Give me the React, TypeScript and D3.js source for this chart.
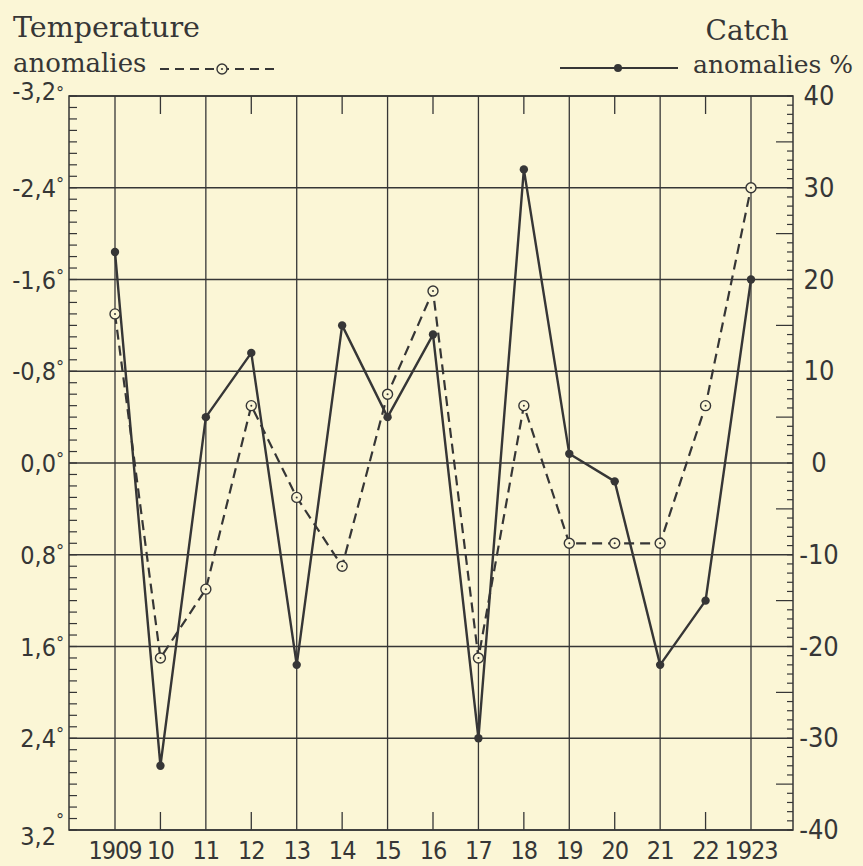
import * as d3 from 'd3';

const years = [1909, 1910, 1911, 1912, 1913, 1914, 1915, 1916, 1917, 1918, 1919, 1920, 1921, 1922, 1923];
const yearLabels = ['1909', '10', '11', '12', '13', '14', '15', '16', '17', '18', '19', '20', '21', '22', '1923'];
// temperature anomalies in degrees (axis inverted: negative up)
const tempAnomalies = [-1.3, 1.7, 1.1, -0.5, 0.3, 0.9, -0.6, -1.5, 1.7, -0.5, 0.7, 0.7, 0.7, -0.5, -2.4];
// catch anomalies in %
const catchAnomalies = [23, -33, 5, 12, -22, 15, 5, 14, -30, 32, 1, -2, -22, -15, 20];
const tempTicks = [-3.2, -2.4, -1.6, -0.8, 0, 0.8, 1.6, 2.4, 3.2];
const tempTickLabels = ['-3,2', '-2,4', '-1,6', '-0,8', '0,0', '0,8', '1,6', '2,4', '3,2'];
const catchTicks = [40, 30, 20, 10, 0, -10, -20, -30, -40];

const W = 863;
const H = 866;
const frame = { left: 69, right: 793, top: 96, bottom: 830 };
const ink = '#363636';
const paper = '#fbf6d6';
const serif = '"DejaVu Serif", serif';
const narrow = '"DejaVu Sans Condensed", "DejaVu Sans", sans-serif';

const App = () => {
  const x = d3.scaleLinear().domain([1909, 1923]).range([115, 751]);
  const yT = d3.scaleLinear().domain([-3.2, 3.2]).range([frame.top, frame.bottom]);
  const yC = d3.scaleLinear().domain([40, -40]).range([frame.top, frame.bottom]);

  const tempLine = d3.line<number>().x((_, i) => x(years[i])).y(d => yT(d));
  const catchLine = d3.line<number>().x((_, i) => x(years[i])).y(d => yC(d));

  // minor ticks: 0.1 degree on the left, 1 % on the right
  const leftMinor = d3.range(-32, 33).map(v => v / 10);
  const rightMinor = d3.range(-40, 41);

  // label offsets: top and bottom labels sit a little off the gridline
  const last = tempTicks.length - 1;
  const labelDy = (i: number) => (i === 0 ? 4 : i === last ? 15 : 9);
  const degDy = (i: number) => (i === 0 ? 3 : i === last ? -4 : 2);

  return (
    <svg width={W} height={H} style={{ position: 'absolute', left: 0, top: 0, background: paper }}>
      <rect width={W} height={H} fill={paper} />

      {/* titles */}
      <text x={13} y={37} fontFamily={serif} fontSize={28} fill={ink} textLength={187} lengthAdjust="spacingAndGlyphs">Temperature</text>
      <text x={13} y={72} fontFamily={serif} fontSize={26} fill={ink}>anomalies</text>
      <line x1={160} x2={278} y1={69} y2={69} stroke={ink} strokeWidth={2} strokeDasharray="9,6" />
      <circle cx={222} cy={69} r={5} fill={paper} stroke={ink} strokeWidth={1.4} />
      <circle cx={222} cy={69} r={1} fill={ink} />

      <text x={747} y={40} textAnchor="middle" fontFamily={serif} fontSize={28} fill={ink}>Catch</text>
      <text x={853} y={73} textAnchor="end" fontFamily={serif} fontSize={25} fill={ink}>anomalies %</text>
      <line x1={560} x2={678} y1={68} y2={68} stroke={ink} strokeWidth={2} />
      <circle cx={618} cy={68} r={4} fill={ink} />

      {/* horizontal grid */}
      {tempTicks.map(t => (
        <line key={'h' + t} x1={frame.left} x2={frame.right} y1={yT(t)} y2={yT(t)} stroke={ink} strokeWidth={1.3} />
      ))}
      {/* vertical grid: odd years full, even years short ticks */}
      {years.map((yr, i) =>
        i % 2 === 0 ? (
          <line key={'v' + yr} x1={x(yr)} x2={x(yr)} y1={frame.top} y2={frame.bottom} stroke={ink} strokeWidth={1.3} />
        ) : (
          <g key={'v' + yr}>
            <line x1={x(yr)} x2={x(yr)} y1={frame.top} y2={frame.top + 18} stroke={ink} strokeWidth={1.3} />
            <line x1={x(yr)} x2={x(yr)} y1={frame.bottom - 18} y2={frame.bottom} stroke={ink} strokeWidth={1.3} />
          </g>
        )
      )}
      <rect x={frame.left} y={frame.top} width={frame.right - frame.left} height={frame.bottom - frame.top} fill="none" stroke={ink} strokeWidth={1.5} />

      {leftMinor.map(v => (
        <line key={'lm' + v} x1={frame.left} x2={frame.left + 8} y1={yT(v)} y2={yT(v)} stroke={ink} strokeWidth={1.2} />
      ))}
      {rightMinor.map(v => (
        <line key={'rm' + v} x1={frame.right - (v % 5 === 0 && v % 10 !== 0 ? 17 : 6)} x2={frame.right} y1={yC(v)} y2={yC(v)} stroke={ink} strokeWidth={1.2} />
      ))}

      {/* left labels */}
      {tempTicks.map((t, i) => (
        <g key={'lt' + t}>
          <text x={56} y={yT(t) + labelDy(i)} textAnchor="end" fontFamily={narrow} fontSize={25} fill={ink}>{tempTickLabels[i]}</text>
          <text x={56} y={yT(t) + degDy(i)} fontFamily={narrow} fontSize={18} fill={ink}>°</text>
        </g>
      ))}
      {/* right labels */}
      {catchTicks.map(t => (
        <text key={'rt' + t} x={819} y={yC(t) + 9} textAnchor="middle" fontFamily={narrow} fontSize={27} fill={ink}>{t < 0 ? '-' + Math.abs(t) : String(t)}</text>
      ))}
      {/* year labels */}
      {years.map((yr, i) => (
        <text key={'yl' + yr} x={x(yr)} y={859} textAnchor="middle" fontFamily={narrow} fontSize={25} fill={ink} letterSpacing={-1}>{yearLabels[i]}</text>
      ))}

      {/* series */}
      <path d={tempLine(tempAnomalies) ?? ''} fill="none" stroke={ink} strokeWidth={2.2} strokeDasharray="10,6" />
      <path d={catchLine(catchAnomalies) ?? ''} fill="none" stroke={ink} strokeWidth={2.4} strokeLinejoin="round" />
      {tempAnomalies.map((v, i) => (
        <g key={'tp' + i}>
          <circle cx={x(years[i])} cy={yT(v)} r={5} fill={paper} stroke={ink} strokeWidth={1.4} />
          <circle cx={x(years[i])} cy={yT(v)} r={1} fill={ink} />
        </g>
      ))}
      {catchAnomalies.map((v, i) => (
        <circle key={'cp' + i} cx={x(years[i])} cy={yC(v)} r={4.2} fill={ink} />
      ))}
    </svg>
  );
};

export default App;
